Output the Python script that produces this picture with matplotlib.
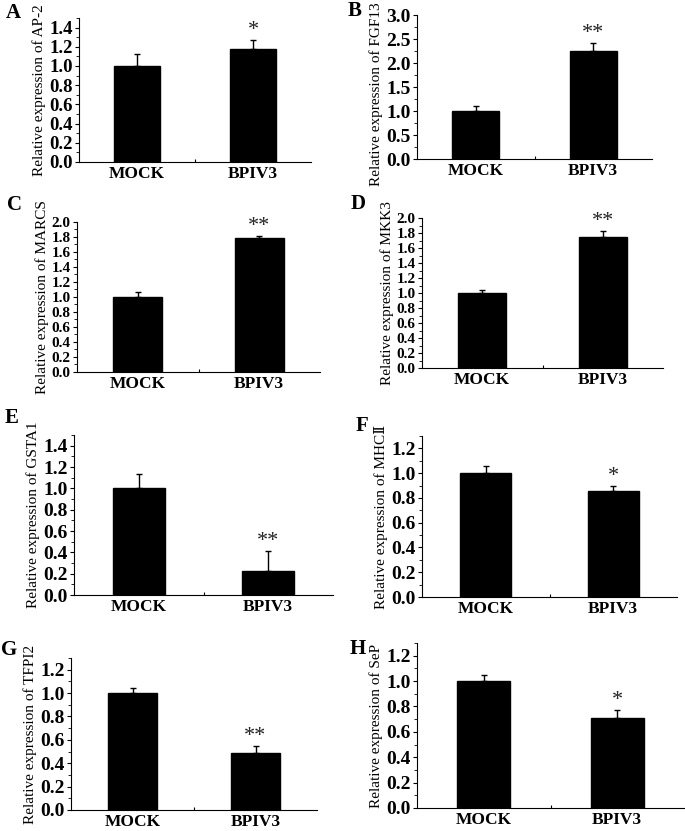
import matplotlib
matplotlib.use("Agg")
import matplotlib.pyplot as plt
from matplotlib.ticker import MultipleLocator, FixedLocator

plt.rcParams['font.family'] = ['Liberation Serif', 'DejaVu Serif']

groups = ["MOCK", "BPIV3"]
panel_letters = ["A", "B", "C", "D", "E", "F", "G", "H"]
genes = ["AP-2", "FGF13", "MARCS", "MKK3", "GSTA1", "MHC\u2161", "TFPI2", "SeP"]
mock_vals = [1.0, 1.0, 1.0, 1.0, 1.0, 1.0, 1.0, 1.0]
mock_err = [0.13, 0.11, 0.07, 0.04, 0.13, 0.06, 0.04, 0.05]
bpiv3_vals = [1.18, 2.25, 1.78, 1.75, 0.225, 0.855, 0.49, 0.71]
bpiv3_err = [0.09, 0.16, 0.03, 0.08, 0.19, 0.045, 0.055, 0.06]
signif = ["*", "**", "**", "**", "**", "*", "**", "*"]
ymax = [1.5, 3.0, 2.0, 2.0, 1.5, 1.3, 1.3, 1.3]
ystep = [0.2, 0.5, 0.2, 0.2, 0.2, 0.2, 0.2, 0.2]

W, H = 685, 831
# axes boxes in pixels: left, right, top, bottom
boxes = [
    (79, 311, 18, 162),
    (417, 652, 15, 159),
    (77, 320, 222, 372),
    (422, 663, 218, 368),
    (74, 333, 435, 595),
    (422, 677, 436, 597),
    (71, 317, 658, 810),
    (417, 684, 643, 808),
]
tick_fs = [13.5, 14, 11, 11, 14, 14, 14, 14]
label_y = [0.5, 0.45, 0.5, 0.5, 0.5, 0.5, 0.5, 0.5]
letter_pos = [(13, 13), (355, 11), (14, 205), (358, 204), (12, 418), (362, 426), (9, 650), (358, 649)]

fig = plt.figure(figsize=(W / 100, H / 100), dpi=100)

for i in range(8):
    l, r, t, b = boxes[i]
    ax = fig.add_axes([l / W, 1 - b / H, (r - l) / W, (b - t) / H])
    vals = [mock_vals[i], bpiv3_vals[i]]
    errs = [mock_err[i], bpiv3_err[i]]
    x = [0, 1]
    ax.bar(x, vals, width=0.4, color="black", edgecolor="black", zorder=2)
    ax.errorbar(x, vals, yerr=[[0, 0], errs], fmt="none", ecolor="black",
                elinewidth=1.0, capsize=2.2, capthick=1.0, zorder=3)
    ax.text(1, vals[1] + errs[1], signif[i], ha="center", va="bottom",
            fontsize=16, fontweight="normal", color="#222222")
    ax.set_xlim(-0.5, 1.5)
    ax.set_ylim(0, ymax[i])
    ax.yaxis.set_major_locator(MultipleLocator(ystep[i]))
    ax.yaxis.set_minor_locator(MultipleLocator(ystep[i] / 2))
    ax.set_yticklabels([f"{v:.1f}" for v in ax.get_yticks()])
    ax.set_ylim(0, ymax[i])
    ax.set_xticks(x)
    ax.set_xticklabels(groups, fontsize=12.5, fontweight="bold")
    ax.tick_params(axis="x", length=0, pad=3)
    ax.xaxis.set_minor_locator(FixedLocator([0.5]))
    ax.tick_params(axis="x", which="minor", direction="in", length=2, width=0.8)
    ax.tick_params(axis="y", which="major", direction="out", length=3, width=0.8, pad=1.5,
                   labelsize=tick_fs[i])
    ax.tick_params(axis="y", which="minor", direction="out", length=2, width=0.6)
    for lab in ax.get_yticklabels():
        lab.set_fontweight("bold")
    ax.spines["top"].set_visible(False)
    ax.spines["right"].set_visible(False)
    ax.spines["left"].set_linewidth(0.8)
    ax.spines["bottom"].set_linewidth(0.8)
    ax.set_ylabel("Relative expression of " + genes[i], fontsize=11, labelpad=2)
    ax.yaxis.label.set_y(label_y[i])
    fig.text(letter_pos[i][0] / W, 1 - letter_pos[i][1] / H, panel_letters[i],
             fontsize=15, fontweight="bold", ha="center", va="center")

fig.savefig("out.png", dpi=100)
